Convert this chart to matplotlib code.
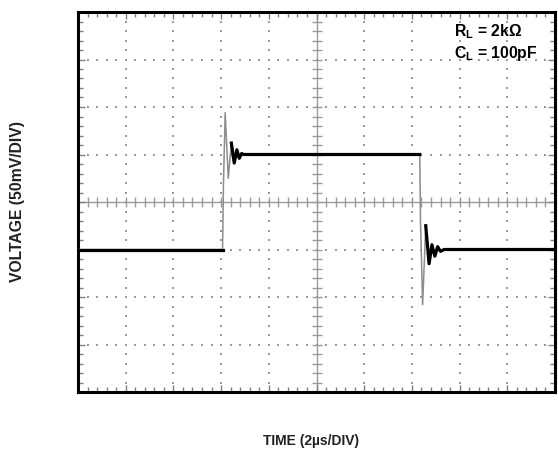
import numpy as np
import matplotlib
matplotlib.use("Agg")
import matplotlib.pyplot as plt

# ---- data (time in us, voltage in mV) ----
time_us = [0.0, 6.06, 6.10, 6.17, 6.30, 6.43, 6.55, 6.66, 6.76, 6.86, 6.95,
           14.33, 14.36, 14.45, 14.58, 14.72, 14.84, 14.96, 15.08, 15.20, 15.35, 20.0]
volt_mV = [-50, -50, 20, 94, 25, 62, 41, 55, 46, 51, 50,
           50, -20, -108, -25, -65, -45, -57, -47, -52, -50, -50]
# index ranges drawn as the slow (dark, thick) trace
dark_segments = [(0, 2), (5, 12), (14, 22)]

x_div, y_div = 2.0, 50.0      # 2us/div, 50mV/div
n_xdiv, n_ydiv = 10, 8
labels = {"x": "TIME (2\u00b5s/DIV)", "y": "VOLTAGE (50mV/DIV)"}
annot = ["R$_\\mathbf{L}$ = 2k\u03a9", "C$_\\mathbf{L}$ = 100pF"]

plt.rcParams['font.family'] = ['Liberation Sans', 'DejaVu Sans']
plt.rcParams['mathtext.fontset'] = 'custom'
plt.rcParams['mathtext.rm'] = 'Liberation Sans'
plt.rcParams['mathtext.bf'] = 'Liberation Sans:bold'

W, H = 558, 453
fig = plt.figure(figsize=(W / 100, H / 100), dpi=100)
ax = fig.add_axes([78 / W, (H - 392) / H, 477 / W, 380 / H])

xmax = n_xdiv * x_div
ymax = n_ydiv / 2 * y_div
ax.set_xlim(0, xmax)
ax.set_ylim(-ymax, ymax)

grid_c = '#9a9a9a'
# dotted grid: dots every 1/5 division
xs_minor = np.arange(0, xmax + 1e-9, x_div / 5)
ys_minor = np.arange(-ymax, ymax + 1e-9, y_div / 5)
for gx in np.arange(x_div, xmax, x_div):
    if abs(gx - xmax / 2) < 1e-9:
        continue
    ax.scatter(np.full(len(ys_minor), gx), ys_minor, s=2.0, marker='s', color=grid_c, lw=0, zorder=1)
for gy in np.arange(-ymax + y_div, ymax, y_div):
    if abs(gy) < 1e-9:
        continue
    ax.scatter(xs_minor, np.full(len(xs_minor), gy), s=2.0, marker='s', color=grid_c, lw=0, zorder=1)

# centre cross with ticks
ax.axhline(0, color=grid_c, lw=1.0, zorder=1)
ax.axvline(xmax / 2, color=grid_c, lw=1.0, zorder=1)
ax.plot(xs_minor, np.zeros_like(xs_minor), ls='none', marker='|', ms=7, mew=1.0, color=grid_c, zorder=1)
ax.plot(np.full_like(ys_minor, xmax / 2), ys_minor, ls='none', marker='_', ms=7, mew=1.0, color=grid_c, zorder=1)

# trace
t = np.array(time_us)
v = np.array(volt_mV)
ax.plot(t, v, color='#8c8c8c', lw=1.1, zorder=3)
for a, b in dark_segments:
    ax.plot(t[a:b], v[a:b], color='black', lw=2.3, zorder=4, solid_joinstyle='round')

# border & ticks
for s in ax.spines.values():
    s.set_linewidth(2.2)
    s.set_color('black')
ax.set_xticks(np.arange(0, xmax + 1e-9, x_div))
ax.set_yticks(np.arange(-ymax, ymax + 1e-9, y_div))
ax.set_xticks(xs_minor, minor=True)
ax.set_yticks(ys_minor, minor=True)
ax.tick_params(which='both', direction='in', top=True, right=True,
               labelbottom=False, labelleft=False, color='#808080')
ax.tick_params(which='major', length=5, width=1.0)
ax.tick_params(which='minor', length=3.5, width=1.0)

# annotation
ax.text(0.788, 0.948, annot[0], transform=ax.transAxes, fontsize=11.3,
        fontweight='bold', va='center', ha='left')
ax.text(0.788, 0.890, annot[1], transform=ax.transAxes, fontsize=11.3,
        fontweight='bold', va='center', ha='left')

fig.text(311.5 / W, 1 - 441 / H, labels["x"], fontsize=10, fontweight='bold',
         ha='center', va='center', color='#222222')
fig.text(18 / W, 1 - 201.5 / H, labels["y"], fontsize=11.3, fontweight='bold',
         ha='center', va='center', rotation=90, color='#222222')

fig.savefig('out.png', dpi=100)
